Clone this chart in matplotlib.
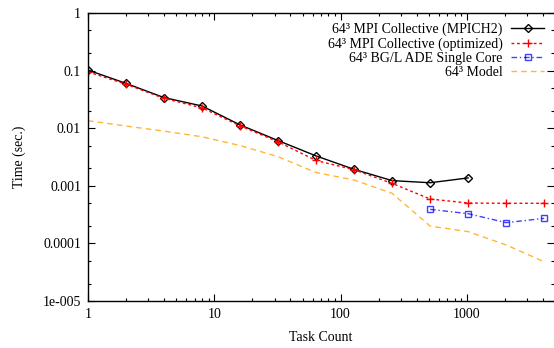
import numpy as np
import matplotlib
matplotlib.use('Agg')
from matplotlib import pyplot as plt
from matplotlib.ticker import LogLocator, FixedLocator, FixedFormatter, NullFormatter

# data
tasks = [1, 2, 4, 8, 16, 32, 64, 128, 256, 512, 1024, 2048, 4096]
mpich2 = [0.102, 0.060, 0.034, 0.0243, 0.0114, 0.0061, 0.0033, 0.00193, 0.00123, 0.00113, 0.00137]
optimized = [0.095, 0.058, 0.033, 0.0225, 0.011, 0.0058, 0.00275, 0.0019, 0.0011, 0.00059, 0.000502, 0.000497, 0.000497]
bgl_tasks = [512, 1024, 2048, 4096]
bgl = [0.00039, 0.000328, 0.000229, 0.000272]
model = [0.0135, 0.0109, 0.0089, 0.0071, 0.0050, 0.0032, 0.0017, 0.00126, 0.00074, 0.0002, 0.00016, 0.000094, 0.000048]

y_ticks = [1, 0.1, 0.01, 0.001, 0.0001, 0.00001]
y_labels = ['1', '0.1', '0.01', '0.001', '0.0001', '1e-005']
x_ticks = [1, 10, 100, 1000]
x_labels = ['1', '10', '100', '1000']

plt.rcParams['font.family'] = ['Liberation Serif', 'DejaVu Serif']
plt.rcParams['font.size'] = 10

fig = plt.figure(figsize=(5.54, 3.48), dpi=100)
ax = fig.add_axes([88 / 554, 47 / 348, 466 / 554, 288 / 348])

ax.plot(tasks[:len(mpich2)], mpich2, color='black', lw=1.0, marker='D', ms=4,
        mfc='none', mec='black', mew=1.0, label='64\u00b3 MPI Collective (MPICH2)')
ax.plot(tasks, optimized, color='#ff0000', lw=1.0, ls=(0, (2, 2)), marker='+', ms=6,
        mew=1.0, label='64\u00b3 MPI Collective (optimized)')
ax.plot(bgl_tasks, bgl, color='#0000ff', lw=1.0, ls=(0, (4, 2, 1, 2)), marker='s', ms=5,
        mfc='none', mew=1.0, alpha=0.75, label='64\u00b3 BG/L ADE Single Core')
ax.plot(tasks, model, color='#ffa500', lw=1.0, ls=(0, (4, 3)), alpha=0.8,
        label='64\u00b3 Model')

ax.set_xscale('log')
ax.set_yscale('log')
ax.set_xlim(1, 4900)
ax.set_ylim(1e-5, 1)

ax.yaxis.set_major_locator(FixedLocator(y_ticks))
ax.yaxis.set_major_formatter(FixedFormatter(y_labels))
ax.yaxis.set_minor_locator(LogLocator(base=10, subs=(2, 5)))
ax.yaxis.set_minor_formatter(NullFormatter())
ax.xaxis.set_major_locator(FixedLocator(x_ticks))
ax.xaxis.set_major_formatter(FixedFormatter(x_labels))
ax.xaxis.set_minor_locator(LogLocator(base=10, subs=np.arange(2, 10)))
ax.xaxis.set_minor_formatter(NullFormatter())

ax.tick_params(which='both', direction='in', top=True, right=True, width=0.8)
ax.tick_params(which='major', length=5, labelsize=10, pad=5)
ax.tick_params(which='minor', length=2.5)
for s in ax.spines.values():
    s.set_linewidth(1.0)
ax.spines['right'].set_visible(False)

ax.set_xlabel('Task Count', fontsize=10, labelpad=7)
ax.set_ylabel('Time (sec.)', fontsize=10, labelpad=12)

leg = ax.legend(loc='upper right', frameon=False, markerfirst=False, fontsize=10,
                handlelength=2.4, labelspacing=0.08, borderaxespad=0.4,
                handletextpad=0.6, borderpad=0.3)
for t in leg.get_texts():
    t.set_ha('right')
leg._legend_box.align = 'right'

plt.savefig('out.png', dpi=100)
